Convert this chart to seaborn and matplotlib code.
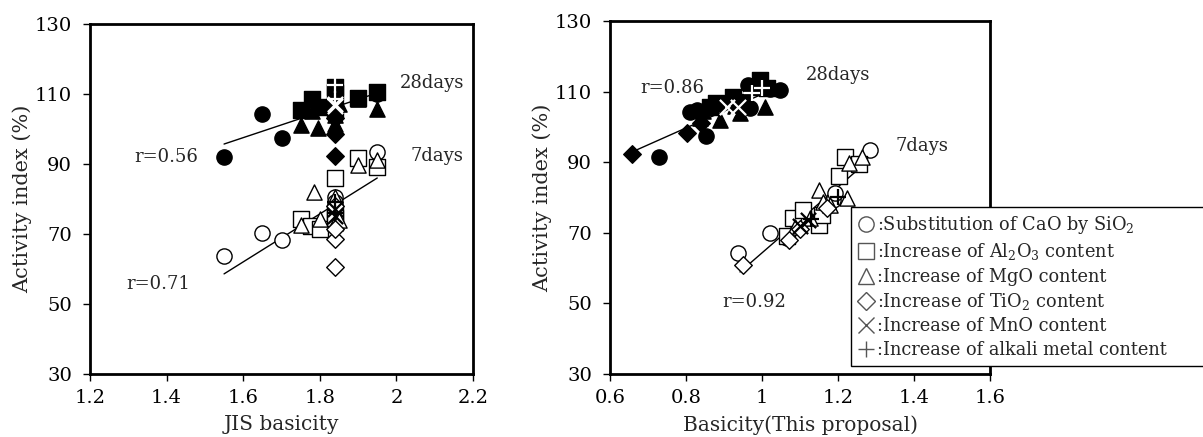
"""
Activity index vs basicity, two panels (JIS basicity / proposed basicity)
"""

import pandas as pd
import numpy as np
import matplotlib.pyplot as plt
import seaborn as sns
from matplotlib.lines import Line2D

sns.set_style("ticks")
plt.rcParams["font.family"] = ["DejaVu Serif"]
plt.rcParams["mathtext.fontset"] = "dejavuserif"

GROUPS = ["CaO", "Al2O3", "MgO", "TiO2", "MnO", "alkali"]
MARKERS = {"CaO": "o", "Al2O3": "s", "MgO": "^", "TiO2": "D", "MnO": "x", "alkali": "+"}
LEGEND_LABELS = [
    ":Substitution of CaO by SiO$_2$",
    ":Increase of Al$_2$O$_3$ content",
    ":Increase of MgO content",
    ":Increase of TiO$_2$ content",
    ":Increase of MnO content",
    ":Increase of alkali metal content",
]

# ---- left panel: JIS basicity ----
L28_X = [1.55, 1.65, 1.70, 1.84, 1.95,
         1.75, 1.78, 1.80, 1.84, 1.84, 1.84, 1.90, 1.95,
         1.75, 1.78, 1.795, 1.84, 1.84, 1.85, 1.90, 1.95,
         1.84, 1.84, 1.84,
         1.84, 1.84,
         1.84, 1.84]
L28_Y = [92, 104.3, 97.4, 108, 110,
         105.4, 108.6, 106.3, 112, 110.3, 105.4, 108.9, 110.6,
         101, 105, 100.3, 104, 101.5, 107, 108.5, 105.8,
         98.5, 92.3, 103,
         106.5, 107,
         112.5, 108.5]
L28_G = ["CaO"] * 5 + ["Al2O3"] * 8 + ["MgO"] * 8 + ["TiO2"] * 3 + ["MnO"] * 2 + ["alkali"] * 2

L7_X = [1.55, 1.65, 1.70, 1.75, 1.84, 1.84, 1.95,
        1.75, 1.777, 1.80, 1.84, 1.84, 1.84, 1.90, 1.95,
        1.75, 1.785, 1.80, 1.84, 1.84, 1.85, 1.90, 1.95,
        1.84, 1.84, 1.84, 1.84,
        1.84, 1.84,
        1.84, 1.84]
L7_Y = [63.8, 70.3, 68.3, 73.3, 80.5, 79, 93.3,
        74.3, 72.3, 71.4, 86, 76, 74.5, 91.7, 89,
        72.5, 82, 74.3, 80.5, 73, 74, 89.7, 91,
        68.6, 60.6, 71.5, 78,
        77, 75,
        79, 76]
L7_G = ["CaO"] * 7 + ["Al2O3"] * 8 + ["MgO"] * 8 + ["TiO2"] * 4 + ["MnO"] * 2 + ["alkali"] * 2

# ---- right panel: proposed basicity ----
R28_X = [0.729, 0.853, 0.81, 0.829, 0.968, 0.963, 1.02, 1.047,
         0.863, 0.88, 0.924, 0.987, 0.995, 1.013, 0.95,
         0.837, 0.845, 0.89, 0.942, 1.008, 0.93,
         0.658, 0.803, 0.84,
         0.907, 0.937,
         0.974, 1.0]
R28_Y = [91.5, 97.4, 104.2, 104.8, 105.4, 111.9, 110.8, 110.5,
         105.6, 106.8, 108.5, 111.3, 113.3, 111, 107,
         102.5, 104.5, 102, 104, 105.6, 106,
         92.3, 98.3, 101,
         105.6, 105.6,
         109.6, 111]
R28_G = ["CaO"] * 8 + ["Al2O3"] * 7 + ["MgO"] * 6 + ["TiO2"] * 3 + ["MnO"] * 2 + ["alkali"] * 2

R7_X = [0.937, 1.021, 1.066, 1.10, 1.187, 1.192, 1.284,
        1.066, 1.082, 1.108, 1.15, 1.158, 1.203, 1.218, 1.255,
        1.087, 1.126, 1.15, 1.16, 1.224, 1.229, 1.263, 1.18,
        0.95, 1.07, 1.10, 1.17,
        1.10, 1.12,
        1.13, 1.20]
R7_Y = [64.3, 70, 68.5, 72.8, 79.3, 81.3, 93.4,
        69, 74.2, 76.5, 72.2, 75, 86.1, 91.5, 89.5,
        71.6, 74.2, 82.1, 78.7, 79.9, 89.8, 91.5, 78,
        60.9, 68, 71, 77,
        72, 73.5,
        74, 80]
R7_G = ["CaO"] * 7 + ["Al2O3"] * 8 + ["MgO"] * 8 + ["TiO2"] * 4 + ["MnO"] * 2 + ["alkali"] * 2

# regression line end points
FIT_L28 = ([1.55, 1.95], [95.7, 110.3])
FIT_L7 = ([1.55, 1.95], [58.6, 86.0])
FIT_R28 = ([0.658, 1.055], [92.9, 111.9])
FIT_R7 = ([0.942, 1.276], [58.9, 90.1])


def draw_set(ax, xs, ys, groups, filled):
    df = pd.DataFrame({"x": xs, "y": ys, "group": groups})
    for g in GROUPS:
        sub = df[df["group"] == g]
        m = MARKERS[g]
        size = 80 if m == "D" else 120
        if m in ("x", "+"):
            sns.scatterplot(data=sub, x="x", y="y", marker=m, s=120,
                            color="white" if filled else "black",
                            linewidth=1.6, ax=ax, zorder=4 if filled else 3)
        else:
            sns.scatterplot(data=sub, x="x", y="y", marker=m, s=size,
                            color="black" if filled else "white",
                            edgecolor="black", linewidth=1.0, ax=ax, zorder=3)


def style_axes(ax, xlim, xticks, xticklabels, xlabel, ylab_x, ax_h):
    ax.set_xlim(*xlim)
    ax.set_ylim(30, 130)
    ax.set_xticks(xticks)
    ax.set_xticklabels(xticklabels)
    ax.set_yticks([30, 50, 70, 90, 110, 130])
    ax.set_xlabel(xlabel, fontsize=14.5)
    ax.set_ylabel("Activity index (%)", fontsize=15)
    ax.xaxis.set_label_coords(0.5, -41 / ax_h)
    ax.yaxis.set_label_coords(ylab_x, 0.5)
    ax.tick_params(direction="out", length=5, width=1, labelsize=14,
                   colors="black")
    ax.tick_params(axis="x", pad=6)
    ax.tick_params(axis="y", pad=8)
    for sp in ax.spines.values():
        sp.set_visible(True)
        sp.set_linewidth(2)
        sp.set_color("black")


fig = plt.figure(figsize=(12.03, 4.37), dpi=100)
ax1 = fig.add_axes([0.0748, 0.1442, 0.3184, 0.8009])
ax2 = fig.add_axes([0.5071, 0.1442, 0.3159, 0.8078])

# left
ax1.plot(*FIT_L28, color="black", lw=1, zorder=2)
ax1.plot(*FIT_L7, color="black", lw=1, zorder=2)
draw_set(ax1, L7_X, L7_Y, L7_G, filled=False)
draw_set(ax1, L28_X, L28_Y, L28_G, filled=True)
ax1.text(2.093, 113.1, "28days", fontsize=13, ha="center", va="center")
ax1.text(2.106, 92.3, "7days", fontsize=13, ha="center", va="center")
ax1.text(1.40, 92.0, "r=0.56", fontsize=13, ha="center", va="center")
ax1.text(1.378, 55.7, "r=0.71", fontsize=13, ha="center", va="center")
style_axes(ax1, (1.2, 2.2), [1.2, 1.4, 1.6, 1.8, 2.0, 2.2],
           ["1.2", "1.4", "1.6", "1.8", "2", "2.2"], "JIS basicity",
           -0.151, 350)

# right
ax2.plot(*FIT_R28, color="black", lw=1, zorder=2)
ax2.plot(*FIT_R7, color="black", lw=1, zorder=2)
draw_set(ax2, R7_X, R7_Y, R7_G, filled=False)
draw_set(ax2, R28_X, R28_Y, R28_G, filled=True)
ax2.text(1.2, 114.7, "28days", fontsize=13, ha="center", va="center")
ax2.text(1.42, 94.6, "7days", fontsize=13, ha="center", va="center")
ax2.text(0.763, 111.0, "r=0.86", fontsize=13, ha="center", va="center")
ax2.text(0.98, 50.4, "r=0.92", fontsize=13, ha="center", va="center")
style_axes(ax2, (0.6, 1.6), [0.6, 0.8, 1.0, 1.2, 1.4, 1.6],
           ["0.6", "0.8", "1", "1.2", "1.4", "1.6"], "Basicity(This proposal)",
           -0.153, 353)

handles = [Line2D([], [], ls="none", marker=MARKERS[g], ms=11 if MARKERS[g] != "D" else 9,
                  mfc="none", mec="#555555", mew=1.0) for g in GROUPS]
leg = fig.legend(handles, LEGEND_LABELS, loc="upper left", mode="expand",
                 bbox_to_anchor=(0.7074, 0.151, 0.2960, 0.3753),
                 bbox_transform=fig.transFigure,
                 fontsize=12.8, frameon=True, fancybox=False, framealpha=1,
                 edgecolor="black", handlelength=0.9, handletextpad=0.15,
                 labelspacing=0.3, borderpad=0.4, borderaxespad=0)
leg.get_frame().set_linewidth(1.0)

fig.savefig("out.png", dpi=100)
